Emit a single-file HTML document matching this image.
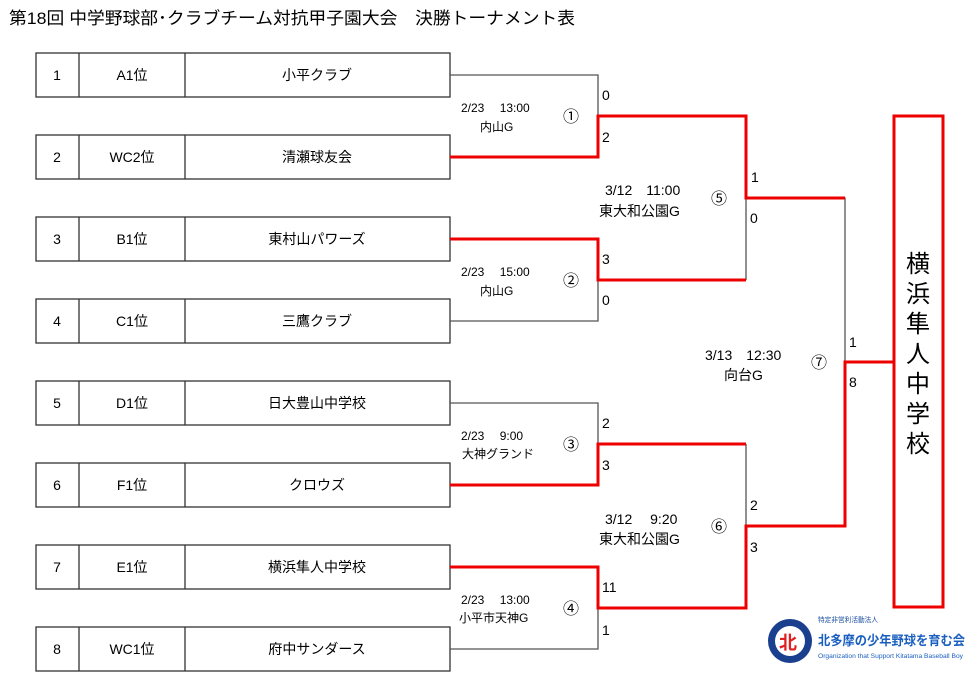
<!DOCTYPE html>
<html><head><meta charset="utf-8"><style>
body{margin:0;background:#fff;width:975px;height:684px;overflow:hidden}
svg text{font-family:"Liberation Sans","Noto Sans CJK JP",sans-serif;fill:#000}
</style></head><body>
<svg width="975" height="684" viewBox="0 0 975 684" xmlns="http://www.w3.org/2000/svg">
<text x="9" y="24" font-size="17" textLength="566" lengthAdjust="spacingAndGlyphs">第18回 中学野球部･クラブチーム対抗甲子園大会　決勝トーナメント表</text>
<g stroke="#333" stroke-width="1.3" fill="none">
<rect x="36" y="53" width="414" height="44"/><line x1="79" y1="53" x2="79" y2="97"/><line x1="185" y1="53" x2="185" y2="97"/>
<rect x="36" y="135" width="414" height="44"/><line x1="79" y1="135" x2="79" y2="179"/><line x1="185" y1="135" x2="185" y2="179"/>
<rect x="36" y="217" width="414" height="44"/><line x1="79" y1="217" x2="79" y2="261"/><line x1="185" y1="217" x2="185" y2="261"/>
<rect x="36" y="299" width="414" height="44"/><line x1="79" y1="299" x2="79" y2="343"/><line x1="185" y1="299" x2="185" y2="343"/>
<rect x="36" y="381" width="414" height="44"/><line x1="79" y1="381" x2="79" y2="425"/><line x1="185" y1="381" x2="185" y2="425"/>
<rect x="36" y="463" width="414" height="44"/><line x1="79" y1="463" x2="79" y2="507"/><line x1="185" y1="463" x2="185" y2="507"/>
<rect x="36" y="545" width="414" height="44"/><line x1="79" y1="545" x2="79" y2="589"/><line x1="185" y1="545" x2="185" y2="589"/>
<rect x="36" y="627" width="414" height="44"/><line x1="79" y1="627" x2="79" y2="671"/><line x1="185" y1="627" x2="185" y2="671"/>
</g>
<g font-size="14" text-anchor="middle">
<text x="57" y="80">1</text><text x="132" y="80">A1位</text><text x="317" y="80">小平クラブ</text>
<text x="57" y="162">2</text><text x="132" y="162">WC2位</text><text x="317" y="162">清瀬球友会</text>
<text x="57" y="244">3</text><text x="132" y="244">B1位</text><text x="317" y="244">東村山パワーズ</text>
<text x="57" y="326">4</text><text x="132" y="326">C1位</text><text x="317" y="326">三鷹クラブ</text>
<text x="57" y="408">5</text><text x="132" y="408">D1位</text><text x="317" y="408">日大豊山中学校</text>
<text x="57" y="490">6</text><text x="132" y="490">F1位</text><text x="317" y="490">クロウズ</text>
<text x="57" y="572">7</text><text x="132" y="572">E1位</text><text x="317" y="572">横浜隼人中学校</text>
<text x="57" y="654">8</text><text x="132" y="654">WC1位</text><text x="317" y="654">府中サンダース</text>
</g>
<g stroke="#555" stroke-width="1.3" fill="none">
<polyline points="450,75 598,75 598,116"/>
<polyline points="450,321 598,321 598,280"/>
<polyline points="746,198 746,280"/>
<polyline points="746,198 845,198 845,362"/>
<polyline points="450,403 598,403 598,444"/>
<polyline points="450,649 598,649 598,608"/>
<polyline points="746,444 746,526"/>
</g>
<g stroke="#e00" stroke-width="3" fill="none">
<polyline points="450,157 598,157 598,116 746,116 746,198 845,198"/>
<polyline points="450,239 598,239 598,280 746,280"/>
<polyline points="450,485 598,485 598,444 746,444"/>
<polyline points="450,567 598,567 598,608 746,608 746,526 845,526 845,362 893,362"/>
<rect x="894" y="116" width="49" height="491"/>
</g>
<g font-size="24" text-anchor="middle">
<text x="918" y="272">横</text><text x="918" y="302">浜</text><text x="918" y="332">隼</text><text x="918" y="362">人</text><text x="918" y="392">中</text><text x="918" y="422">学</text><text x="918" y="452">校</text>
</g>
<g font-size="12">
<text x="461" y="112">2/23　 13:00</text><text x="480" y="131">内山G</text>
<text x="461" y="276">2/23　 15:00</text><text x="480" y="295">内山G</text>
<text x="461" y="440">2/23　  9:00</text><text x="462" y="458">大神グランド</text>
<text x="461" y="604">2/23　 13:00</text><text x="459" y="622">小平市天神G</text>
</g>
<g font-size="14">
<text x="605" y="195">3/12　11:00</text><text x="599" y="216">東大和公園G</text>
<text x="605" y="524">3/12　 9:20</text><text x="599" y="544">東大和公園G</text>
<text x="705" y="360">3/13　12:30</text><text x="724" y="380">向台G</text>
<text x="602" y="100">0</text><text x="602" y="142">2</text>
<text x="602" y="264">3</text><text x="602" y="305">0</text>
<text x="602" y="428">2</text><text x="602" y="470">3</text>
<text x="602" y="592">11</text><text x="602" y="635">1</text>
<text x="751" y="182">1</text><text x="750" y="223">0</text>
<text x="750" y="510">2</text><text x="750" y="552">3</text>
<text x="849" y="347">1</text><text x="849" y="387">8</text>
</g>
<g font-size="16">
<text x="563" y="122">①</text><text x="563" y="286">②</text><text x="563" y="450">③</text><text x="563" y="614">④</text>
<text x="711" y="204">⑤</text><text x="711" y="532">⑥</text><text x="811" y="368">⑦</text>
</g>
<circle cx="790" cy="641" r="22" fill="#1a3f8f"/><circle cx="790" cy="641" r="15" fill="#fff"/>
<text x="779" y="649" font-size="18" font-weight="bold" style="fill:#e02020">北</text>
<text x="818" y="622" font-size="7" textLength="60" lengthAdjust="spacingAndGlyphs" style="fill:#1a4fa0">特定非営利活動法人</text>
<text x="818" y="645" font-size="13" font-weight="bold" textLength="147" lengthAdjust="spacingAndGlyphs" style="fill:#1a5fc0">北多摩の少年野球を育む会</text>
<text x="818" y="658" font-size="6" textLength="145" lengthAdjust="spacingAndGlyphs" style="fill:#1a5fc0">Organization that Support Kitatama Baseball Boy</text>
</svg>
</body></html>
